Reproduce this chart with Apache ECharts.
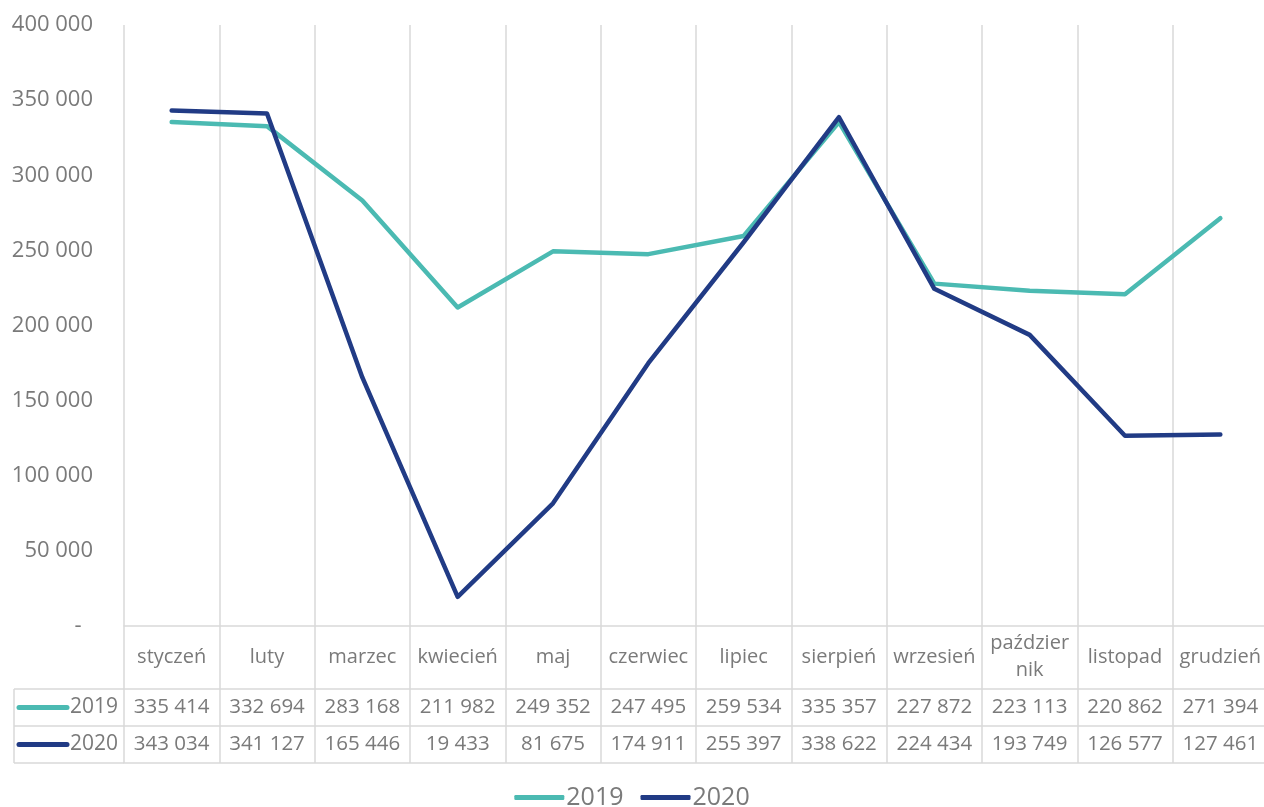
<!DOCTYPE html>
<html>
<head>
<meta charset="utf-8">
<script src="https://cdn.jsdelivr.net/npm/echarts@6/dist/echarts.min.js"></script>
<style>
html,body{margin:0;padding:0;background:#fff;}
#chart{width:1264px;height:807px;}
</style>
</head>
<body>
<div id="chart"></div>
<script>
const months = ['styczeń','luty','marzec','kwiecień','maj','czerwiec','lipiec','sierpień','wrzesień','paździer\nnik','listopad','grudzień'];
const seriesNames = ['2019','2020'];
const values2019 = [335414,332694,283168,211982,249352,247495,259534,335357,227872,223113,220862,271394];
const values2020 = [343034,341127,165446,19433,81675,174911,255397,338622,224434,193749,126577,127461];
const yTicks = {min:0, max:400000, interval:50000};

const COL19 = '#4BBAB2';
const COL20 = '#213B85';
const GRIDC = '#d9d9d9';
const TXT = '#7a7a7a';
const FONT = '"Open Sans", sans-serif';

function fmt(v){ return String(v).replace(/\B(?=(\d{3})+(?!\d))/g, ' '); }

const lineStyle = {color: GRIDC, width: 1.5};

const chart = echarts.init(document.getElementById('chart'), null, {renderer:'canvas'});

function valueAxis(vals, offset){
  return {
    type:'category', data: months, position:'bottom', offset: offset, boundaryGap:true,
    axisLine:{show:true, lineStyle: lineStyle},
    axisTick:{show:false}, splitLine:{show:false},
    axisLabel:{show: !!vals, interval:0, margin:18, verticalAlign:'middle', fontSize:20.5, color:TXT, fontFamily:FONT,
      formatter: function(v, i){ return vals ? fmt(vals[i]) : ''; }}
  };
}

const option = {
  backgroundColor:'#fff',
  animation:false,
  textStyle:{fontFamily:FONT},
  grid:{left:124, top:25, width:1144, height:601, outerBoundsMode:'none', containLabel:false},
  xAxis:[
    {
      type:'category', data: months, position:'bottom', boundaryGap:true,
      axisLine:{show:true, lineStyle: lineStyle},
      axisTick:{show:true, interval:0, length:137, lineStyle: lineStyle},
      splitLine:{show:true, interval:0, lineStyle: lineStyle},
      axisLabel:{interval:0, margin:31, verticalAlign:'middle', lineHeight:27, fontSize:20, color:TXT, fontFamily:FONT}
    },
    valueAxis(values2019, 63),
    valueAxis(values2020, 100),
    valueAxis(null, 137)
  ],
  yAxis:{
    type:'value', min:yTicks.min, max:yTicks.max, interval:yTicks.interval,
    axisLine:{show:false}, axisTick:{show:false}, splitLine:{show:false},
    axisLabel:{margin:31, fontSize:22, color:TXT, fontFamily:FONT,
      formatter: function(v){ return v === 0 ? '-  ' : fmt(v); }}
  },
  legend:{
    data: seriesNames, top: 780, left:'center', icon:'roundRect', itemWidth:50, itemHeight:5, itemGap:17,
    textStyle:{fontSize:25, color:TXT, fontFamily:FONT, padding:[0,0,0,-3]}
  },
  graphic: [],
  series:[
    {name: seriesNames[0], type:'line', data: values2019, symbol:'none', color: COL19,
      lineStyle:{width:4.5, color: COL19, cap:'round', join:'round'}},
    {name: seriesNames[1], type:'line', data: values2020, symbol:'none', color: COL20,
      lineStyle:{width:4.5, color: COL20, cap:'round', join:'round'}}
  ]
};

// left column of the data table (legend keys + series names)
const rowTops = [689, 726, 763];
const leftX = 14, rightX = 124;
const g = [];
rowTops.forEach(function(y){
  g.push({type:'line', shape:{x1:leftX, y1:y, x2:rightX, y2:y}, style:{stroke:GRIDC, lineWidth:1.5}});
});
g.push({type:'line', shape:{x1:leftX, y1:rowTops[0], x2:leftX, y2:rowTops[2]}, style:{stroke:GRIDC, lineWidth:1.5}});
[COL19, COL20].forEach(function(c, i){
  const cy = (rowTops[i] + rowTops[i+1]) / 2;
  g.push({type:'line', shape:{x1:19, y1:cy, x2:67, y2:cy}, style:{stroke:c, lineWidth:5, lineCap:'round'}});
  g.push({type:'text', x:70, y:cy, style:{text: seriesNames[i], fontSize:21, fill:TXT, fontFamily:FONT, textVerticalAlign:'middle', verticalAlign:'middle'}});
});
option.graphic = g;

chart.setOption(option);
</script>
</body>
</html>
